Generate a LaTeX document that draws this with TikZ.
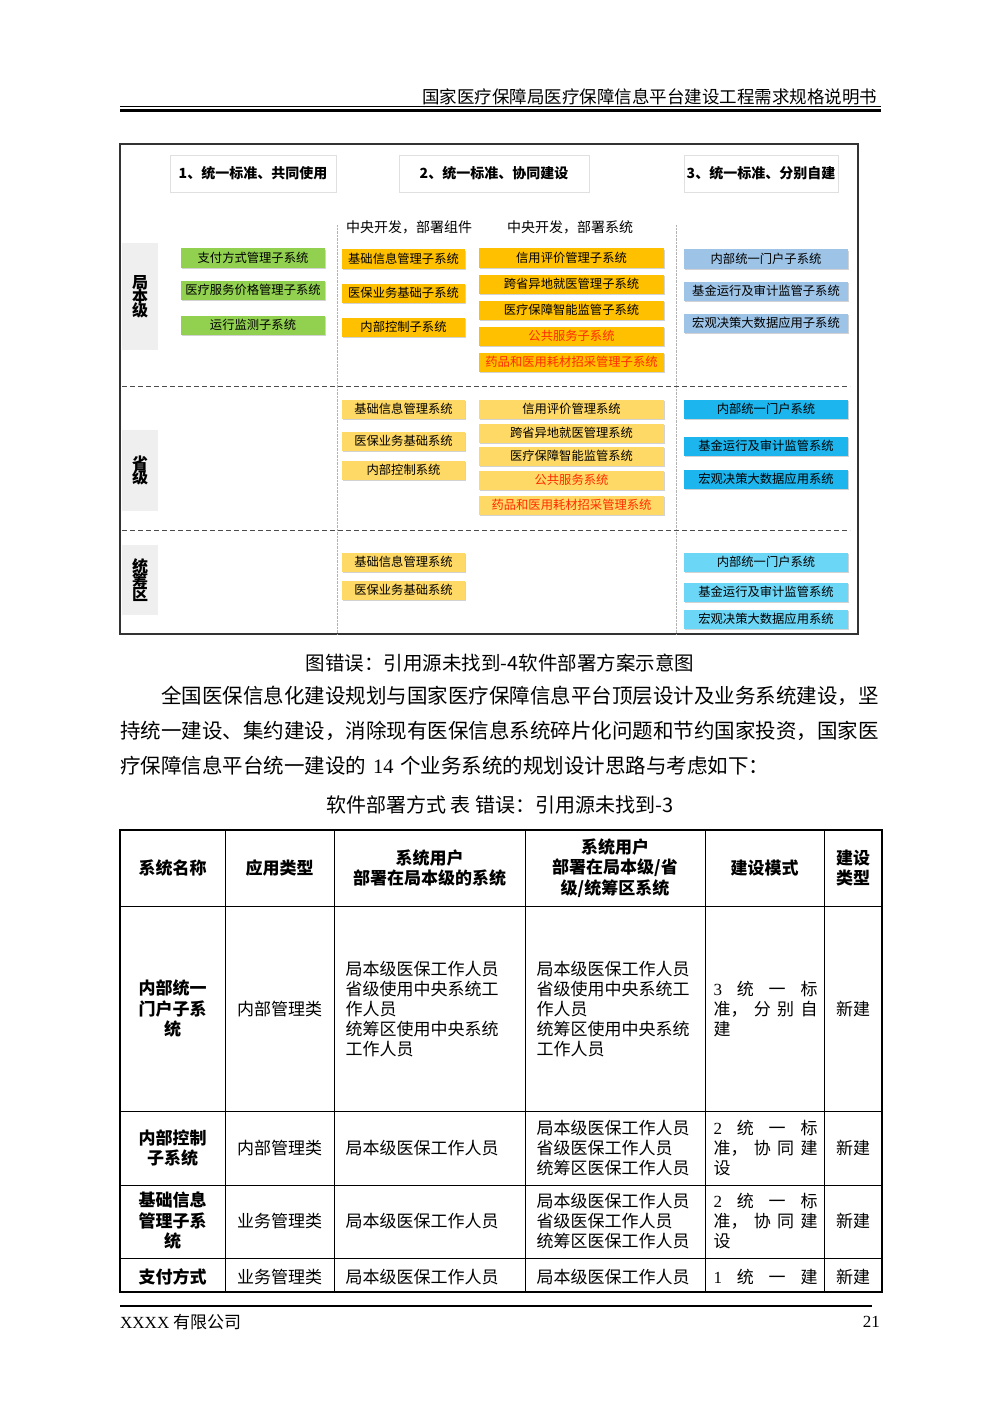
\documentclass[tikz,border=0pt]{standalone}
\usepackage{fontspec}
\setmainfont{Noto Sans CJK SC}
\newfontfamily\latf{Liberation Serif}
\newcommand{\lat}[1]{{\latf #1}}
\XeTeXlinebreaklocale "zh"
\XeTeXlinebreakskip=0pt plus 1pt
\usetikzlibrary{shadows}
\definecolor{gr}{HTML}{92D050}
\definecolor{ye}{HTML}{FFC000}
\definecolor{ly}{HTML}{FFD966}
\definecolor{bl}{HTML}{9DC3E6}
\definecolor{cy}{HTML}{1CB5EE}
\definecolor{lc}{HTML}{6CD6F7}
\definecolor{rd}{HTML}{FF2A00}
\definecolor{lg}{HTML}{EFEFEF}
\tikzset{
 sbox/.style={minimum height=19pt,inner sep=0pt,font=\fontsize{12.3}{13}\selectfont,drop shadow={shadow xshift=1pt,shadow yshift=-1.5pt,opacity=.35}},
 hbox/.style={draw=black!12,fill=white,inner sep=0pt,font=\bfseries\fontsize{14}{15}\selectfont},
 lvl/.style={fill=lg,inner sep=0pt,font=\bfseries\fontsize{16}{17}\selectfont,align=center},
 cell/.style={font=\fontsize{17}{20}\selectfont,align=center},
 hcell/.style={font=\bfseries\fontsize{17}{20.5}\selectfont,align=center},
 lcell/.style={font=\fontsize{17}{20}\selectfont,align=left,anchor=west},
}
\newcommand{\bx}[6]{\node[sbox,fill=#1,text=#6,minimum width=#3pt] (#2) at (#4,#5) {#2};}
\begin{document}
\begin{tikzpicture}[x=1pt,y=-1pt]
\useasboundingbox (0,0) rectangle (1000,1415);
\fill[white] (0,0) rectangle (1000,1415);
% header
\node[anchor=east,font=\fontsize{17.5}{18}\selectfont] (hdr) at (881,97) {国家医疗保障局医疗保障信息平台建设工程需求规格说明书};
\draw[line width=0.8pt] (120,106) -- (881,106);
\draw[line width=3pt] (120,110.5) -- (881,110.5);
% frame
\draw[line width=1.3pt,black!80] (120,144) rectangle (858,634);
\node[hbox,minimum width=166pt,minimum height=37pt] (h1) at (253,173.5) {1、统一标准、共同使用};
\node[hbox,minimum width=190pt,minimum height=37pt] (h2) at (494,173.5) {2、统一标准、协同建设};
\node[hbox,minimum width=154pt,minimum height=37pt] (h3) at (761,173.5) {3、统一标准、分别自建};
\node[font=\fontsize{14}{15}\selectfont] (s1) at (409,227) {中央开发，部署组件};
\node[font=\fontsize{14}{15}\selectfont] (s2) at (570,227) {中央开发，部署系统};
\draw[black!30,densely dotted] (337,225) -- (337,634);
\draw[black!30,densely dotted] (676,225) -- (676,634);
\draw[black!70,line width=0.9pt,dash pattern=on 5pt off 3pt] (122,386) -- (850,386);
\draw[black!70,line width=0.9pt,dash pattern=on 5pt off 3pt] (122,530) -- (850,530);
\node[lvl,minimum width=36pt,minimum height=107pt] (L1) at (140,296.5) {局\\[-3pt]本\\[-3pt]级};
\node[lvl,minimum width=36pt,minimum height=81pt] (L2) at (140,470.5) {省\\[-3pt]级};
\node[lvl,minimum width=36pt,minimum height=70pt] (L3) at (140,580) {统\\[-3pt]筹\\[-3pt]区};
% level 1
\bx{gr}{支付方式管理子系统}{144}{253}{258}{black}
\bx{gr}{医疗服务价格管理子系统}{144}{253}{290}{black}
\bx{gr}{运行监测子系统}{144}{253}{325}{black}
\bx{ye}{基础信息管理子系统}{123}{403.5}{259}{black}
\bx{ye}{医保业务基础子系统}{123}{403.5}{293}{black}
\bx{ye}{内部控制子系统}{123}{403.5}{327}{black}
\bx{ye}{信用评价管理子系统}{185}{571.5}{258}{black}
\bx{ye}{跨省异地就医管理子系统}{185}{571.5}{284}{black}
\bx{ye}{医疗保障智能监管子系统}{185}{571.5}{310}{black}
\bx{ye}{公共服务子系统}{185}{571.5}{336}{rd}
\bx{ye}{药品和医用耗材招采管理子系统}{185}{571.5}{362}{rd}
\bx{bl}{内部统一门户子系统}{164}{766}{259}{black}
\bx{bl}{基金运行及审计监管子系统}{164}{766}{291}{black}
\bx{bl}{宏观决策大数据应用子系统}{164}{766}{323}{black}
% province
\bx{ly}{基础信息管理系统}{123}{403.5}{409}{black}
\bx{ly}{医保业务基础系统}{123}{403.5}{441}{black}
\bx{ly}{内部控制系统}{123}{403.5}{470}{black}
\bx{ly}{信用评价管理系统}{185}{571.5}{409}{black}
\bx{ly}{跨省异地就医管理系统}{185}{571.5}{433}{black}
\bx{ly}{医疗保障智能监管系统}{185}{571.5}{456}{black}
\bx{ly}{公共服务系统}{185}{571.5}{480}{rd}
\bx{ly}{药品和医用耗材招采管理系统}{185}{571.5}{505}{rd}
\bx{cy}{内部统一门户系统}{164}{766}{409}{black}
\bx{cy}{基金运行及审计监管系统}{164}{766}{446}{black}
\bx{cy}{宏观决策大数据应用系统}{164}{766}{479}{black}
% pool
\node[sbox,fill=ly,minimum width=123pt] (p1) at (403.5,562) {基础信息管理系统};
\node[sbox,fill=ly,minimum width=123pt] (p2) at (403.5,590) {医保业务基础系统};
\node[sbox,fill=lc,minimum width=164pt] (p3) at (766,562) {内部统一门户系统};
\node[sbox,fill=lc,minimum width=164pt] (p4) at (766,592) {基金运行及审计监管系统};
\node[sbox,fill=lc,minimum width=164pt] (p5) at (766,619) {宏观决策大数据应用系统};
% caption and paragraph
\node[font=\fontsize{19.5}{20}\selectfont] (cap) at (500,663) {图错误：引用源未找到-4软件部署方案示意图};
\node[anchor=north west,inner sep=0pt,text width=770pt,font=\fontsize{20.5}{35}\selectfont] (par) at (120,686)
 {\parindent=0pt \hspace*{41pt}全国医保信息化建设规划与国家医疗保障信息平台顶层设计及业务系统建设，坚\par
 持统一建设、集约建设，消除现有医保信息系统碎片化问题和节约国家投资，国家医\par
 疗保障信息平台统一建设的\lat{ 14 }个业务系统的规划设计思路与考虑如下：\par};
\node[font=\fontsize{20}{21}\selectfont] (tt) at (500,805) {软件部署方式 表 错误：引用源未找到-3};
% table
\foreach \x in {225,334,525,705,824} \draw[line width=0.9pt] (\x,830) -- (\x,1292);
\foreach \y in {906,1111,1185,1258} \draw[line width=0.9pt] (120,\y) -- (882,\y);
\draw[line width=2.5pt] (120,830) rectangle (882,1292);
\node[hcell] (t1) at (172.5,868) {系统名称};
\node[hcell] (t2) at (279.5,868) {应用类型};
\node[hcell] (t3) at (429.5,868) {系统用户\\部署在局本级的系统};
\node[hcell] (t4) at (615,868) {系统用户\\部署在局本级/省\\级/统筹区系统};
\node[hcell] (t5) at (764.5,868) {建设模式};
\node[hcell] (t6) at (853,868) {建设\\类型};
% row 1
\node[hcell] (r1a) at (172.5,1009) {内部统一\\门户子系\\统};
\node[cell] (r1b) at (279.5,1009) {内部管理类};
\node[lcell] (r1c) at (342,1009) {局本级医保工作人员\\省级使用中央系统工\\作人员\\统筹区使用中央系统\\工作人员};
\node[lcell] (r1d) at (533,1009) {局本级医保工作人员\\省级使用中央系统工\\作人员\\统筹区使用中央系统\\工作人员};
\node[lcell] (r1e) at (710,1009) {\makebox[104pt][s]{\lat{3}\hfill 统\hfill 一\hfill 标}\\\makebox[104pt][s]{准，\hfill 分\hfill 别\hfill 自}\\建};
\node[cell] (r1f) at (853,1009) {新建};
% row 2
\node[hcell] (r2a) at (172.5,1148) {内部控制\\子系统};
\node[cell] (r2b) at (279.5,1148) {内部管理类};
\node[lcell] (r2c) at (342,1148) {局本级医保工作人员};
\node[lcell] (r2d) at (533,1148) {局本级医保工作人员\\省级医保工作人员\\统筹区医保工作人员};
\node[lcell] (r2e) at (710,1148) {\makebox[104pt][s]{\lat{2}\hfill 统\hfill 一\hfill 标}\\\makebox[104pt][s]{准，\hfill 协\hfill 同\hfill 建}\\设};
\node[cell] (r2f) at (853,1148) {新建};
% row 3
\node[hcell] (r3a) at (172.5,1221) {基础信息\\管理子系\\统};
\node[cell] (r3b) at (279.5,1221) {业务管理类};
\node[lcell] (r3c) at (342,1221) {局本级医保工作人员};
\node[lcell] (r3d) at (533,1221) {局本级医保工作人员\\省级医保工作人员\\统筹区医保工作人员};
\node[lcell] (r3e) at (710,1221) {\makebox[104pt][s]{\lat{2}\hfill 统\hfill 一\hfill 标}\\\makebox[104pt][s]{准，\hfill 协\hfill 同\hfill 建}\\设};
\node[cell] (r3f) at (853,1221) {新建};
% row 4
\node[hcell] (r4a) at (172.5,1277) {支付方式};
\node[cell] (r4b) at (279.5,1277) {业务管理类};
\node[lcell] (r4c) at (342,1277) {局本级医保工作人员};
\node[lcell] (r4d) at (533,1277) {局本级医保工作人员};
\node[lcell] (r4e) at (710,1277) {\makebox[104pt][s]{\lat{1}\hfill 统\hfill 一\hfill 建}};
\node[cell] (r4f) at (853,1277) {新建};
% footer
\draw[line width=2.5pt] (120,1306) -- (872,1306);
\node[anchor=west,inner sep=0pt,font=\fontsize{17}{18}\selectfont] (ft) at (120,1322) {\lat{XXXX} 有限公司};
\node[anchor=east,inner sep=0pt,font=\latf\fontsize{17}{18}\selectfont] (pg) at (880,1322) {21};
\end{tikzpicture}
\end{document}
